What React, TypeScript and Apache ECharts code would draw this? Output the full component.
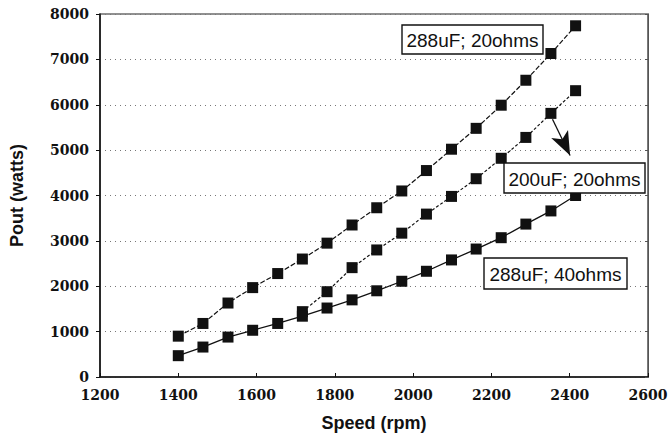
import React, { useEffect, useRef } from "react";
import * as echarts from "echarts";

const speedAll = [1400, 1463, 1527, 1590, 1654, 1717, 1780, 1844, 1907, 1971, 2034, 2098, 2161, 2225, 2288, 2352, 2415];
const speedMid = [1717, 1780, 1844, 1907, 1971, 2034, 2098, 2161, 2225, 2288, 2352, 2415];
const power288_20 = [900, 1180, 1630, 1970, 2280, 2600, 2950, 3350, 3730, 4100, 4550, 5020, 5480, 5990, 6540, 7130, 7740];
const power200_20 = [1440, 1880, 2410, 2800, 3170, 3590, 3980, 4370, 4820, 5280, 5810, 6310];
const power288_40 = [470, 660, 880, 1030, 1180, 1340, 1520, 1700, 1900, 2110, 2330, 2580, 2820, 3070, 3370, 3660, 4000];
const seriesNames = ["288uF; 20ohms", "200uF; 20ohms", "288uF; 40ohms"];
const arrowFrom = [2356, 5680];
const arrowTo = [2401, 4880];

const pairs = (xs: number[], ys: number[]) => xs.map((x, i) => [x, ys[i]]);

export default function App() {
  const ref = useRef<HTMLDivElement>(null);
  useEffect(() => {
    document.body.style.margin = "0";
    const chart = echarts.init(ref.current!, null, { renderer: "svg" });
    const tickFont = {
      fontFamily: "'DejaVu Serif', serif",
      fontSize: 14,
      fontWeight: "bold" as const,
      color: "#111",
      formatter: (v: number) => String(v),
    };
    const box = (cx: number, cy: number, w: number, h: number, text: string) => ({
      type: "group",
      children: [
        {
          type: "rect",
          shape: { x: cx - w / 2, y: cy - h / 2, width: w, height: h },
          style: { fill: "#fff", stroke: "#111", lineWidth: 1.4 },
          z: 10,
        },
        {
          type: "text",
          x: cx,
          y: cy + 1,
          style: {
            text,
            fill: "#111",
            font: "19px 'Liberation Sans', Arial, sans-serif",
            textAlign: "center",
            textVerticalAlign: "middle",
          },
          z: 11,
        },
      ],
    });
    chart.setOption({
      animation: false,
      backgroundColor: "#fff",
      grid: {
        left: 96,
        right: 23,
        top: 14,
        bottom: 52,
        show: true,
        borderColor: "#222",
        borderWidth: 1.2,
      },
      xAxis: {
        type: "value",
        min: 1200,
        max: 2600,
        interval: 200,
        name: "Speed (rpm)",
        nameLocation: "middle",
        nameGap: 37,
        nameTextStyle: { fontFamily: "Liberation Sans", fontSize: 18, fontWeight: "bold", color: "#111" },
        axisLine: { lineStyle: { color: "#111", width: 1.5 } },
        axisTick: { inside: true, length: 4, lineStyle: { color: "#111" } },
        axisLabel: { ...tickFont, margin: 11 },
        splitLine: { show: false },
      },
      yAxis: [
        {
          type: "value",
          min: 0,
          max: 8000,
          interval: 1000,
          name: "Pout (watts)",
          nameLocation: "middle",
          nameGap: 74,
          nameTextStyle: { fontFamily: "Liberation Sans", fontSize: 18, fontWeight: "bold", color: "#111" },
          axisLine: { show: true, lineStyle: { color: "#111", width: 1.5 } },
          axisTick: { show: true, length: 4, lineStyle: { color: "#111" } },
          axisLabel: { ...tickFont, margin: 11 },
          splitLine: { show: true, lineStyle: { color: "#777", width: 1, type: [1, 4] } },
        },
        {
          type: "value",
          position: "right",
          min: 0,
          max: 8000,
          interval: 1000,
          axisLine: { show: true, lineStyle: { color: "#555", width: 1 } },
          axisTick: { show: true, inside: true, length: 3, lineStyle: { color: "#555" } },
          axisLabel: { show: false },
          splitLine: { show: false },
        },
      ],
      series: [
        {
          name: seriesNames[0],
          type: "line",
          data: pairs(speedAll, power288_20),
          symbol: "rect",
          symbolSize: 11,
          itemStyle: { color: "#111" },
          lineStyle: { color: "#111", width: 1.2, type: [5, 2] },
        },
        {
          name: seriesNames[1],
          type: "line",
          data: pairs(speedMid, power200_20),
          symbol: "rect",
          symbolSize: 11,
          itemStyle: { color: "#111" },
          lineStyle: { color: "#111", width: 1.2, type: [3, 2] },
          markLine: {
            silent: true,
            symbol: ["none", "arrow"],
            symbolSize: [14, 24],
            label: { show: false },
            lineStyle: { color: "#111", width: 1.3, type: "solid" },
            data: [[{ coord: arrowFrom }, { coord: arrowTo }]],
          },
        },
        {
          name: seriesNames[2],
          type: "line",
          data: pairs(speedAll, power288_40),
          symbol: "rect",
          symbolSize: 11,
          itemStyle: { color: "#111" },
          lineStyle: { color: "#111", width: 1.3 },
        },
      ],
      graphic: [
        box(472.5, 39.5, 141, 29, seriesNames[0]),
        box(574.5, 178, 141, 30, seriesNames[1]),
        box(555.5, 273.5, 143, 31, seriesNames[2]),
      ],
    });
    return () => chart.dispose();
  }, []);
  return <div ref={ref} style={{ width: 671, height: 437 }} />;
}
